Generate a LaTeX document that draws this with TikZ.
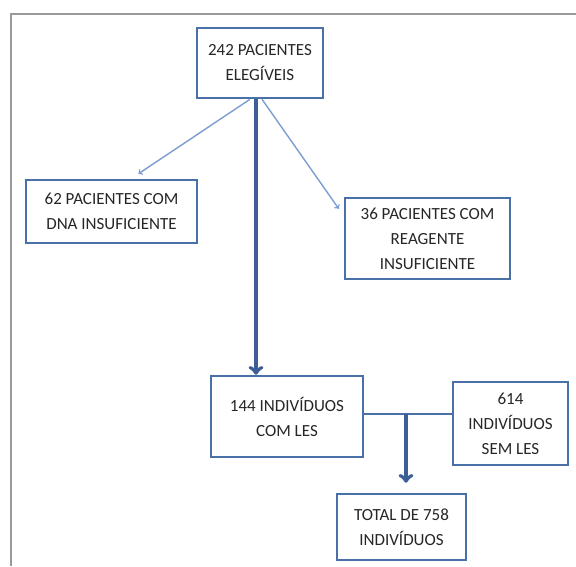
\documentclass[tikz,border=0pt]{standalone}
\usepackage{fontspec}
\setmainfont{Carlito}
\definecolor{boxblue}{HTML}{4A70A8}
\definecolor{thinblue}{HTML}{7C9DD0}
\definecolor{thickblue}{HTML}{3B5F96}
\definecolor{txtgray}{HTML}{262626}
\tikzset{
  box/.style={draw=boxblue, line width=2.5pt, fill=white, align=center, inner sep=0pt,
    text=txtgray, font=\fontsize{17}{25}\selectfont},
  thin/.style={->, draw=thinblue, line width=1.4pt},
  thick/.style={->, draw=thickblue, line width=4pt}
}
\begin{document}
\begin{tikzpicture}[x=1pt, y=-1pt]
      \useasboundingbox (0,0) rectangle (576,566);
      \draw [gray!80, line width=2.5pt] (11,566) -- (11,14) -- (576,14);
    
      \node [box, minimum width=126, minimum height=70] (eleg) at (260,63) {242 PACIENTES\\ELEGÍVEIS};
      \node [box, minimum width=171, minimum height=63] (dna) at (111.5,211.5) {62 PACIENTES COM\\DNA INSUFICIENTE};
      \node [box, minimum width=165, minimum height=81] (reag) at (427.5,238.5) {36 PACIENTES COM\\REAGENTE\\INSUFICIENTE};
      \node [box, minimum width=152, minimum height=81] (les) at (287,416.5) {144 INDIVÍDUOS\\COM LES};
      \node [box, minimum width=115, minimum height=83] (semles) at (510.5,423.5) {614\\INDIVÍDUOS\\SEM LES};
      \node [box, minimum width=129, minimum height=66] (total) at (401.5,527) {TOTAL DE 758\\INDIVÍDUOS};
      \coordinate (j) at (406,414);
      
      \draw [thin] ([xshift=-10]eleg.south) -- ([xshift=27,yshift=5]dna.north);
      \draw [thin] ([xshift=2]eleg.south) -- ([shift={(-5,12)}]reag.north west);
      \draw [thick] ([xshift=-4]eleg.south) -- ([xshift=-4]eleg.south |- les.north);
      \draw [boxblue, line width=1.5pt] (les.east |- j) -- (semles.west |- j);
      \draw [thick] (j) -- ([yshift=10]total.north -| j);
    \end{tikzpicture}
\end{document}
